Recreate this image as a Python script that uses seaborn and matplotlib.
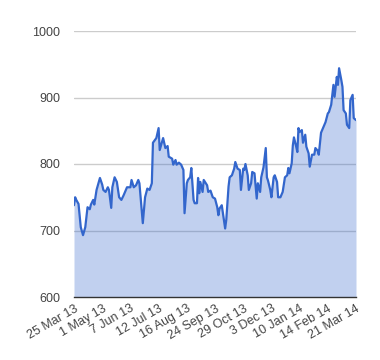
import matplotlib
matplotlib.use("Agg")
import matplotlib.pyplot as plt
import seaborn as sns
import pandas as pd

# trading-day index (0..250) and closing value
day_idx = [0, 1, 2, 4, 6, 8, 10, 12, 14, 15, 17, 18, 20, 22, 23, 25, 26, 28, 30, 31,
           33, 34, 36, 38, 40, 42, 44, 47, 50, 51, 53, 55, 57, 58, 61, 63, 65, 67, 69, 70,
           73, 75, 76, 79, 81, 83, 84, 87, 88, 90, 91, 93, 95, 97, 98, 100, 101, 103, 104, 106,
           107, 109, 110, 111, 112, 114, 115, 118, 119, 121, 123, 125, 127, 128, 129, 131, 132, 134, 135, 137,
           138, 140, 142, 143, 145, 147, 148, 150, 151, 152, 154, 155, 157, 158, 160, 162, 163, 165, 166, 168,
           170, 171, 172, 174, 175, 177, 178, 180, 181, 183, 185, 187, 189, 190, 191, 193, 194, 195, 197, 198,
           199, 200, 202, 203, 205, 206, 208, 209, 211, 213, 214, 216, 217, 219, 220, 222, 223, 225, 226, 228,
           229, 230, 231, 233, 234, 235, 237, 238, 239, 241, 242, 244, 245, 247, 248, 250]
values = [738, 750, 746, 740, 705, 693, 705, 735, 732, 739, 746, 739, 761, 773, 779, 769, 761, 758, 765, 761,
          734, 765, 780, 773, 750, 746, 753, 765, 765, 776, 765, 768, 776, 771, 711, 750, 763, 761, 771, 832,
          839, 854, 821, 839, 824, 827, 811, 808, 799, 806, 799, 802, 799, 791, 726, 771, 776, 780, 794, 746,
          741, 741, 779, 756, 773, 758, 776, 768, 758, 760, 750, 748, 735, 723, 733, 738, 726, 703, 716, 766,
          780, 783, 793, 803, 793, 791, 761, 793, 791, 800, 783, 761, 771, 788, 786, 748, 771, 758, 780, 795,
          824, 780, 775, 761, 750, 780, 783, 773, 750, 750, 758, 780, 783, 794, 786, 801, 828, 840, 826, 818,
          854, 848, 851, 832, 844, 826, 816, 796, 814, 814, 824, 820, 814, 847, 851, 859, 863, 876, 878, 889,
          904, 919, 901, 931, 919, 944, 926, 916, 881, 876, 859, 854, 896, 904, 869, 866]

tick_idx = [0, 25, 50, 75, 100, 125, 150, 175, 200, 225, 250]
tick_labels = ["25 Mar 13", "1 May 13", "7 Jun 13", "12 Jul 13", "16 Aug 13", "24 Sep 13",
               "29 Oct 13", "3 Dec 13", "10 Jan 14", "14 Feb 14", "21 Mar 14"]
y_ticks = [600, 700, 800, 900, 1000]

df = pd.DataFrame({"day": day_idx, "value": values})

sns.set_style("white")
plt.rcParams["font.family"] = ["Liberation Sans", "DejaVu Sans"]

fig = plt.figure(figsize=(3.8, 3.6), dpi=100)
ax = fig.add_axes([74 / 380, 63 / 360, 282 / 380, 266 / 360])

for y in y_ticks[1:]:
    ax.axhline(y, color="#cccccc", lw=1, zorder=0)

ax.fill_between(df["day"], 600, df["value"], color="#3366cc", alpha=0.3, lw=0, zorder=1)
sns.lineplot(data=df, x="day", y="value", color="#3366cc", lw=1.6, ax=ax, zorder=2)

ax.set_xlim(0, 250)
ax.set_ylim(600, 1000)
ax.set_yticks(y_ticks)
ax.set_yticklabels([str(v) for v in y_ticks], fontsize=9, color="#444444")
ax.set_xticks(tick_idx)
ax.set_xticklabels(tick_labels, rotation=30, ha="right", va="top",
                   rotation_mode="anchor", fontsize=9, color="#444444")
ax.tick_params(axis="both", length=0)
ax.tick_params(axis="y", pad=10)
ax.tick_params(axis="x", pad=4)
ax.set_xlabel("")
ax.set_ylabel("")
for s in ["top", "right", "left"]:
    ax.spines[s].set_visible(False)
ax.spines["bottom"].set_color("#333333")
ax.spines["bottom"].set_linewidth(1)

fig.savefig("out.png", dpi=100)
